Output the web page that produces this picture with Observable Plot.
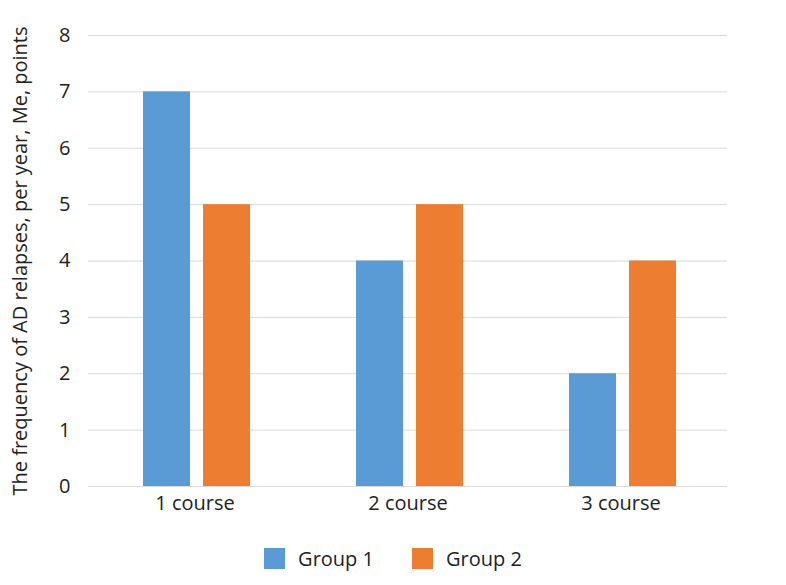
<!DOCTYPE html>
<html>
<head>
<meta charset="utf-8">
<script src="https://cdn.jsdelivr.net/npm/d3@7"></script>
<script src="https://cdn.jsdelivr.net/npm/@observablehq/plot@0.6"></script>
<style>
  html, body { margin: 0; padding: 0; background: #fff; }
  body { width: 786px; font-family: "Open Sans", sans-serif; }
  .legend { display: flex; justify-content: center; align-items: center; gap: 38px; font-size: 20px; color: #222; margin-top: 20px; }
  .legend span.item { display: flex; align-items: center; }
  .legend span.sw { display: inline-block; width: 21px; height: 21px; margin-right: 13px; }
</style>
</head>
<body>
<div id="chart"></div>
<script>
const courses = ["1 course", "2 course", "3 course"];
const groups = ["Group 1", "Group 2"];
const group1 = [7, 4, 2];
const group2 = [5, 5, 4];
const colors = ["#5B9BD5", "#ED7D31"];
const yTicks = [0, 1, 2, 3, 4, 5, 6, 7, 8];
const yLabel = "The frequency of AD relapses, per year, Me, points";

const data = [];
courses.forEach((c, i) => {
  data.push({course: c, group: groups[0], value: group1[i]});
  data.push({course: c, group: groups[1], value: group2[i]});
});

const chart = Plot.plot({
  width: 786,
  height: 525,
  marginLeft: 88,
  marginRight: 59,
  marginTop: 35,
  marginBottom: 39,
  style: {fontFamily: "Open Sans, sans-serif", fontSize: "20px", color: "#222"},
  fx: {domain: courses, padding: 0, label: null},
  x: {domain: groups, paddingInner: 0.22, paddingOuter: 0.88, align: 0.52, axis: null},
  y: {domain: [0, 8], ticks: yTicks},
  color: {domain: groups, range: colors},
  marks: [
    Plot.gridY(yTicks, {stroke: "#d9d9d9", strokeOpacity: 1}),
    Plot.axisY(yTicks, {tickSize: 0, tickPadding: 18, tickFormat: d => String(d), fontSize: 20, label: yLabel, labelAnchor: "center", labelArrow: "none", labelOffset: 76, fill: "#222"}),
    Plot.axisFx({anchor: "bottom", tickSize: 0, tickPadding: 9, fontSize: 20, label: null, fill: "#222"}),
    Plot.barY(data, {fx: "course", x: "group", y: "value", fill: "group"})
  ]
});
document.getElementById("chart").appendChild(chart);

const legend = document.createElement("div");
legend.className = "legend";
groups.forEach((g, i) => {
  const item = document.createElement("span");
  item.className = "item";
  const sw = document.createElement("span");
  sw.className = "sw";
  sw.style.background = colors[i];
  item.appendChild(sw);
  item.appendChild(document.createTextNode(g));
  legend.appendChild(item);
});
document.body.appendChild(legend);
</script>
</body>
</html>
